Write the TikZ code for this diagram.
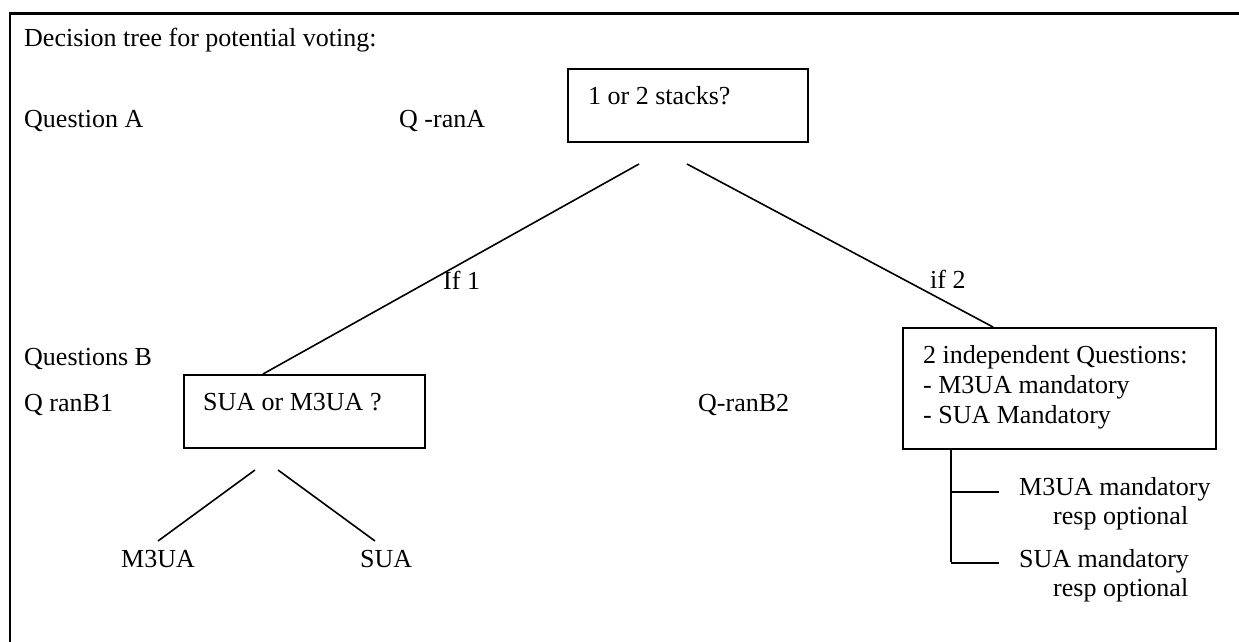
\documentclass[tikz,border=0pt]{standalone}
\usepackage{fontspec}
\setmainfont{Liberation Serif}
\begin{document}
\begin{tikzpicture}[x=1pt,y=-1pt,
  box/.style={draw, line width=2pt, anchor=north west, inner sep=0pt},
  txt/.style={anchor=base west, inner sep=0pt, font=\fontsize{26}{30}\selectfont},
  conn/.style={line width=1.6pt},
  frameline/.style={line width=2.6pt, line join=miter}]
\useasboundingbox (0,0) rectangle (1239,641);
% frame (cropped at right and bottom)
\draw[frameline] (1240,13.5) -- (10,13.5) -- (10,642);
% texts on the left
\node[txt] (title) at (24,46) {Decision tree for potential voting:};
\node[txt] (qa) at (24,127) {Question A};
\node[txt] (qra) at (399,127) {Q -ranA};
\node[txt] (qb) at (24,365) {Questions B};
\node[txt] (qb1) at (24,411) {Q ranB1};
\node[txt] (qb2) at (698,411) {Q-ranB2};
% boxes
\node[box, minimum width=240pt, minimum height=73pt] (b1) at (567,68) {};
\node[txt] (t1) at (588,104) {1 or 2 stacks?};
\node[box, minimum width=241pt, minimum height=73pt] (b2) at (183,374) {};
\node[txt] (t2) at (203,410) {SUA or M3UA ?};
\node[box, minimum width=313pt, minimum height=121pt] (b3) at (902,327) {};
\node[txt] (t3a) at (923,363) {2 independent Questions:};
\node[txt] (t3b) at (923,393) {- M3UA mandatory};
\node[txt] (t3c) at (923,423) {- SUA Mandatory};
% branch labels
\node[txt] (if1) at (443,289) {If 1};
\node[txt] (if2) at (930,288) {if 2};
% leaves
\node[txt] (m3) at (121,567) {M3UA};
\node[txt] (sua) at (360,567) {SUA};
\node[txt] (r1a) at (1019,495) {M3UA mandatory};
\node[txt] (r1b) at (1053,524) {resp optional};
\node[txt] (r2a) at (1019,567) {SUA mandatory};
\node[txt] (r2b) at (1053,596) {resp optional};
% connector end points
\coordinate (s1) at ([shift={(72,21)}]b1.south west);
\coordinate (s2) at ([shift={(120,21)}]b1.south west);
\coordinate (e1) at ([xshift=80pt]b2.north west);
\coordinate (e2) at ([xshift=91pt]b3.north west);
\coordinate (s3) at ([shift={(72,21)}]b2.south west);
\coordinate (s4) at ([shift={(95,21)}]b2.south west);
\coordinate (m3end) at (158,541);
\coordinate (suaend) at (375,541);
\coordinate (br0) at ([xshift=49pt]b3.south west);
\coordinate (br1) at (951,492);
\coordinate (br2) at (951,563);
\coordinate (br1e) at (999,492);
\coordinate (br2e) at (999,563);
% connectors
\draw[conn] (s1) -- (e1);
\draw[conn] (s2) -- (e2);
\draw[conn] (s3) -- (m3end);
\draw[conn] (s4) -- (suaend);
\draw[conn] (br0) -- ([yshift=1pt]br2);
\draw[conn] (br1) -- (br1e);
\draw[conn] (br2) -- (br2e);
\end{tikzpicture}
\end{document}
